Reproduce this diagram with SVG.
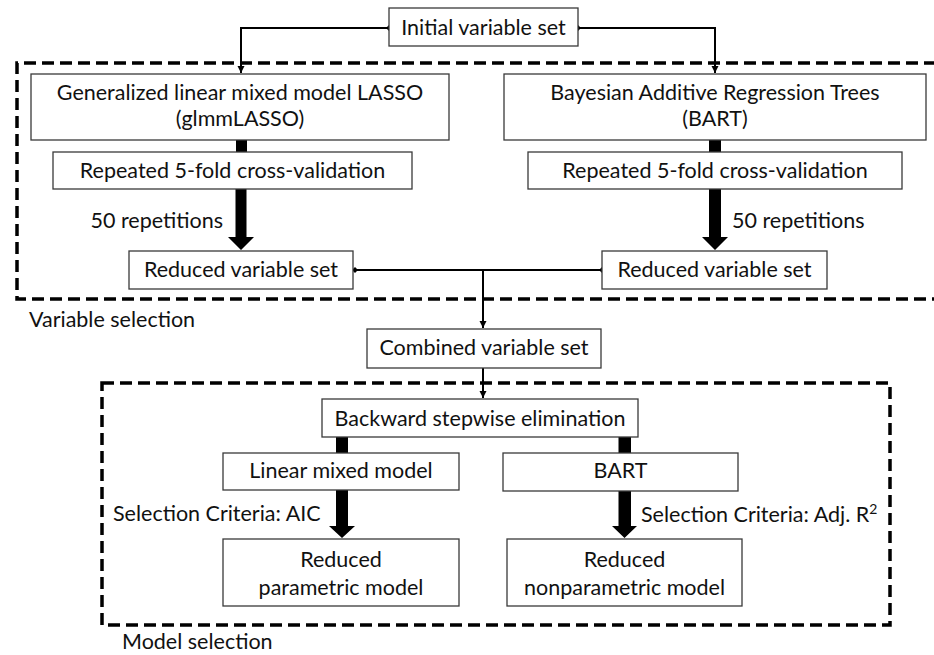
<svg xmlns="http://www.w3.org/2000/svg" width="934" height="655" viewBox="0 0 934 655">
<style>
.box{fill:#fff;stroke:#3a3a3a;stroke-width:1.3}
.t{font-family:Lato,"Liberation Sans",sans-serif;font-size:21.5px;fill:#111;text-anchor:middle}
.l{font-family:Lato,"Liberation Sans",sans-serif;font-size:21.5px;fill:#111}
.thin{fill:none;stroke:#000;stroke-width:2}
.dash{fill:none;stroke:#000;stroke-width:3.5;stroke-dasharray:12 6}
.thick{fill:#000}
</style>
<defs>
<marker id="ah" markerWidth="8" markerHeight="8" refX="7" refY="4" orient="auto" markerUnits="userSpaceOnUse">
<path d="M0,0.5 L7,4 L0,7.5 Z" fill="#000"/>
</marker>
<marker id="dot" markerWidth="6" markerHeight="6" refX="3" refY="3" markerUnits="userSpaceOnUse">
<path d="M3,0 L6,3 L3,6 L0,3 Z" fill="#000"/>
</marker>
</defs>
<rect width="934" height="655" fill="#fff"/>
<g id="regions">
<path class="dash" d="M936,63 H17 V299 H936"/>
<rect class="dash" x="102" y="383" width="788" height="242"/>
</g>
<g id="connectors">
<path class="thin" d="M389,28 H241 V73" marker-start="url(#dot)" marker-end="url(#ah)"/>
<path class="thin" d="M578,28 H715 V73" marker-start="url(#dot)" marker-end="url(#ah)"/>
<path class="thin" d="M355,270 H602" marker-start="url(#dot)" marker-end="url(#dot)"/>
<path class="thin" d="M483,270 V328" marker-end="url(#ah)"/>
<path class="thin" d="M483,368 V398" marker-end="url(#ah)"/>
<rect class="thick" x="236" y="140" width="11" height="12"/>
<rect class="thick" x="709" y="140" width="12" height="12"/>
<polygon class="thick" points="235.5,189 246.5,189 246.5,237 254,237 241,250 228,237 235.5,237"/>
<polygon class="thick" points="709,189 721,189 721,237 728,237 715,250 702,237 709,237"/>
<rect class="thick" x="336" y="437" width="12" height="16"/>
<rect class="thick" x="618.5" y="437" width="12.5" height="16"/>
<polygon class="thick" points="336,490 348,490 348,526 355,526 342,538 329,526 336,526"/>
<polygon class="thick" points="618.5,491 631,491 631,526 637,526 624.5,538 612,526 618.5,526"/>
</g>
<g id="initial">
<rect class="box" x="389" y="8" width="189" height="38"/>
<text class="t" x="483.5" y="35">Initial variable set</text>
</g>
<g id="glmm">
<rect class="box" x="31" y="74" width="418" height="66"/>
<text class="t" x="240" y="100">Generalized linear mixed model LASSO</text>
<text class="t" x="240" y="126">(glmmLASSO)</text>
</g>
<g id="bart1">
<rect class="box" x="504" y="74" width="422" height="66"/>
<text class="t" x="715" y="100">Bayesian Additive Regression Trees</text>
<text class="t" x="715" y="126">(BART)</text>
</g>
<g id="cv-left">
<rect class="box" x="53" y="152" width="359" height="37"/>
<text class="t" x="232.5" y="178">Repeated 5-fold cross-validation</text>
</g>
<g id="cv-right">
<rect class="box" x="528" y="152" width="374" height="37"/>
<text class="t" x="715" y="178">Repeated 5-fold cross-validation</text>
</g>
<g id="rep-labels">
<text class="l" x="223" y="228" text-anchor="end">50 repetitions</text>
<text class="l" x="732" y="228">50 repetitions</text>
</g>
<g id="reduced-left">
<rect class="box" x="129" y="251" width="224" height="38"/>
<text class="t" x="241" y="277">Reduced variable set</text>
</g>
<g id="reduced-right">
<rect class="box" x="602" y="251" width="225" height="38"/>
<text class="t" x="714.5" y="277">Reduced variable set</text>
</g>
<g id="var-sel-label">
<text class="l" x="29" y="327">Variable selection</text>
</g>
<g id="combined">
<rect class="box" x="367" y="329" width="234" height="39"/>
<text class="t" x="484" y="355">Combined variable set</text>
</g>
<g id="backward">
<rect class="box" x="322" y="399" width="316" height="38"/>
<text class="t" x="480" y="426">Backward stepwise elimination</text>
</g>
<g id="lmm">
<rect class="box" x="223" y="453" width="236" height="37"/>
<text class="t" x="341" y="478">Linear mixed model</text>
</g>
<g id="bart2">
<rect class="box" x="503" y="453" width="235" height="38"/>
<text class="t" x="620.5" y="478">BART</text>
</g>
<g id="crit-labels">
<text class="l" x="113" y="521">Selection Criteria: AIC</text>
<text class="l" x="641" y="522">Selection Criteria: Adj. R<tspan dy="-8" font-size="14">2</tspan></text>
</g>
<g id="param">
<rect class="box" x="223" y="539" width="236" height="67"/>
<text class="t" x="341" y="567">Reduced</text>
<text class="t" x="341" y="595">parametric model</text>
</g>
<g id="nonparam">
<rect class="box" x="507" y="539" width="235" height="67"/>
<text class="t" x="624.5" y="567">Reduced</text>
<text class="t" x="624.5" y="595">nonparametric model</text>
</g>
<g id="model-sel-label">
<text class="l" x="122" y="649">Model selection</text>
</g>
</svg>
